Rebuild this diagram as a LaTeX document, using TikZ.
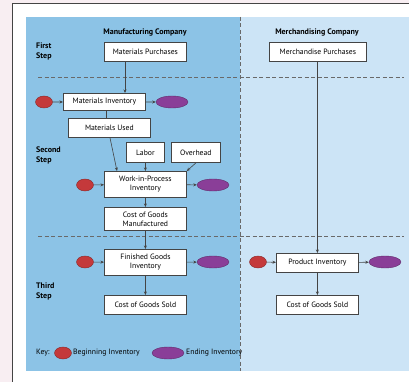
\documentclass[tikz,border=0pt]{standalone}
\usepackage{fontspec}
\setmainfont{PT Sans}
\usetikzlibrary{arrows.meta,shapes.geometric}
\definecolor{pinkbg}{HTML}{F8EEF2}
\definecolor{darkblue}{HTML}{8CC3E6}
\definecolor{lightblue}{HTML}{CCE4F6}
\definecolor{begred}{HTML}{C4393B}
\definecolor{endpurple}{HTML}{8A3E98}
\definecolor{linegray}{HTML}{444444}
\tikzset{
  x=1pt, y=-1pt,
  box/.style={draw=linegray, line width=0.8pt, fill=white, font=\fontsize{7.7}{9}\selectfont, align=center, inner sep=0pt, anchor=north west},
  begell/.style={ellipse, fill=begred, draw=begred!70!black, line width=0.4pt, minimum width=17pt, minimum height=12pt, inner sep=0pt},
  endell/.style={ellipse, fill=endpurple, draw=endpurple!70!black, line width=0.4pt, minimum width=32pt, minimum height=12pt, inner sep=0pt},
  conn/.style={draw=linegray, line width=0.6pt, -{Stealth[length=3.5pt,width=3pt]}},
  plain/.style={draw=linegray, line width=0.6pt},
  lbl/.style={font=\bfseries\fontsize{8}{10}\selectfont, align=left, anchor=north west, inner sep=0pt},
  head/.style={font=\bfseries\fontsize{8}{9}\selectfont, inner sep=0pt},
  keytxt/.style={font=\fontsize{7.7}{9}\selectfont, inner sep=0pt, anchor=west},
  sep/.style={draw=linegray!80, dash pattern=on 4pt off 2.5pt, line width=0.6pt}
}
\begin{document}
\begin{tikzpicture}
\useasboundingbox (0,0) rectangle (409,382);
% backgrounds
\fill[pinkbg] (0,0) rectangle (409,382);
\fill[white] (12,4) rectangle (409,382);
\draw[linegray, line width=1pt] (12,382) -- (12,4) -- (409,4);
\fill[darkblue] (26,17) rectangle (240,371);
\fill[lightblue] (240,17) rectangle (409,371);
% separators
\draw[sep] (38,77) -- (404,77);
\draw[sep] (38,236) -- (404,236);
\draw[sep] (240,17) -- (240,371);
% headers
\node[head] (hman) at (145,32) {Manufacturing Company};
\node[head] (hmer) at (317,32) {Merchandising Company};
\node[lbl] (s1) at (36,43) {First\\Step};
\node[lbl] (s2) at (36,147) {Second\\Step};
\node[lbl] (s3) at (36,283) {Third\\Step};
% manufacturing boxes
\node[box, minimum width=82pt, minimum height=19pt] (mp) at (104,42) {Materials Purchases};
\node[box, minimum width=82pt, minimum height=17pt] (mi) at (63,93) {Materials Inventory};
\node[box, minimum width=82pt, minimum height=19pt] (mu) at (68,118) {Materials Used};
\node[box, minimum width=38pt, minimum height=20pt] (lab) at (126,142) {Labor};
\node[box, minimum width=49pt, minimum height=20pt] (ovh) at (171,142) {Overhead};
\node[box, minimum width=82pt, minimum height=26pt] (wip) at (104,171) {Work-in-Process\\Inventory};
\node[box, minimum width=82pt, minimum height=23pt] (cgm) at (104,207) {Cost of Goods\\Manufactured};
\node[box, minimum width=82pt, minimum height=26pt] (fg) at (104,249) {Finished Goods\\Inventory};
\node[box, minimum width=82pt, minimum height=19pt] (cgs) at (104,295) {Cost of Goods Sold};
% merchandising boxes
\node[box, minimum width=97pt, minimum height=19pt] (mdp) at (269,42) {Merchandise Purchases};
\node[box, minimum width=82pt, minimum height=19pt] (pi) at (276,253) {Product Inventory};
\node[box, minimum width=82pt, minimum height=19pt] (cgs2) at (276,295) {Cost of Goods Sold};
% ellipses
\node[begell] (b1) at (44,102) {};
\node[endell] (e1) at (172,102) {};
\node[begell] (b2) at (85,185) {};
\node[endell] (e2) at (213,185) {};
\node[begell] (b3) at (85,262) {};
\node[endell] (e3) at (213,262) {};
\node[begell] (b4) at (258,262) {};
\node[endell] (e4) at (385,262) {};
% key
\node[keytxt] (key) at (36,353) {Key:};
\node[begell] (kb) at (63,353) {};
\node[keytxt] (kbt) at (73,353) {Beginning Inventory};
\node[endell] (ke) at (168,353) {};
\node[keytxt] (ket) at (186,353) {Ending Inventory};
% connectors
\draw[conn] (mp.south -| 125,0) -- (mi.north -| 125,0);
\draw[plain] (mi.south -| 106,0) -- (mu.north -| 106,0);
\draw[conn] (b1) -- (mi);
\draw[conn] (mi) -- (e1);
\draw[conn] (mu.south -| 110,0) -- (wip.north -| 117,0);
\draw[conn] (lab) -- (lab |- wip.north);
\draw[conn] (ovh.south -| 196,0) -- (wip.north east);
\draw[conn] (b2) -- (wip);
\draw[conn] (wip) -- (e2);
\draw[conn] (wip) -- (cgm);
\draw[conn] (cgm) -- (fg);
\draw[conn] (b3) -- (fg);
\draw[conn] (fg) -- (e3);
\draw[conn] (fg) -- (cgs);
\draw[conn] (mdp.south -| pi.north) -- (pi.north);
\draw[conn] (b4) -- (pi);
\draw[conn] (pi) -- (e4);
\draw[conn] (pi) -- (cgs2);
\end{tikzpicture}
\end{document}
